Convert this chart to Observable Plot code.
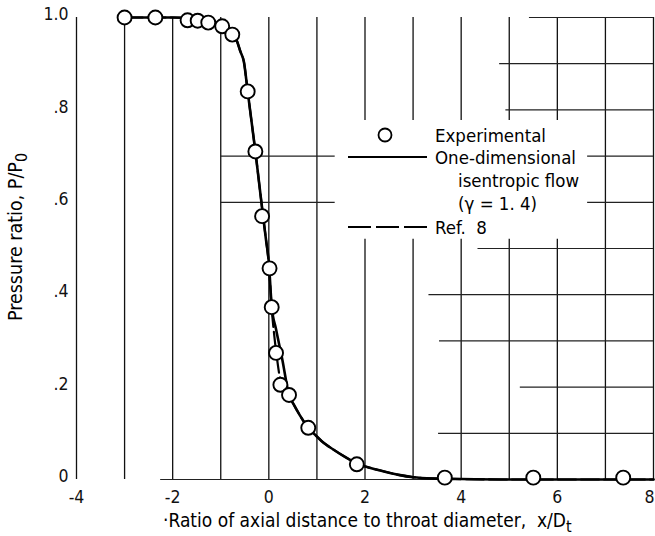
<!DOCTYPE html>
<html><head><meta charset="utf-8">
<script src="https://cdn.jsdelivr.net/npm/d3@7"></script>
<script src="https://cdn.jsdelivr.net/npm/@observablehq/plot@0.6"></script>
<style>
html,body{margin:0;padding:0;background:#fff;}
#chart svg{display:block;}
</style></head><body><div id="chart"></div>
<script>
// Experimental points
const expX = [-3.0, -2.36, -1.69, -1.48, -1.26, -0.97, -0.76, -0.44, -0.28, -0.14, 0.015, 0.06, 0.15, 0.24, 0.42, 0.82, 1.83, 3.66, 5.5, 7.37];
const expY = [1.0, 1.0, 0.994, 0.993, 0.989, 0.981, 0.963, 0.84, 0.71, 0.57, 0.457, 0.373, 0.274, 0.205, 0.183, 0.112, 0.033, 0.004, 0.004, 0.004];
// One-dimensional isentropic flow (solid)
const isenX = [-3, -2, -1.5, -1.2, -1.0, -0.8, -0.66, -0.59, -0.52, -0.44, -0.36, -0.28, -0.2, -0.12, -0.06, 0, 0.06, 0.15, 0.28, 0.42, 0.52, 0.64, 0.82, 0.96, 1.1, 1.34, 1.6, 1.83, 2.3, 2.7, 3.0, 3.5, 4.0, 5.0, 6.0, 7.0, 8.0];
const isenY = [1.0, 1.0, 0.997, 0.992, 0.985, 0.968, 0.948, 0.926, 0.905, 0.84, 0.775, 0.71, 0.64, 0.57, 0.52, 0.47, 0.375, 0.325, 0.26, 0.183, 0.162, 0.14, 0.112, 0.097, 0.083, 0.065, 0.048, 0.035, 0.02, 0.01, 0.005, 0.002, 0.001, 0, 0, 0, 0];
// Ref. 8 (dashed)
const ref8X = [-3, -2, -1.5, -1.2, -1.0, -0.8, -0.66, -0.59, -0.52, -0.44, -0.36, -0.28, -0.2, -0.12, -0.06, 0, 0.06, 0.12, 0.17, 0.22, 0.3, 0.42, 0.52, 0.64, 0.82, 0.96, 1.1, 1.34, 1.6, 1.83, 2.3, 2.7, 3.0, 3.5, 4.0, 5.0, 6.0, 7.0, 8.0];
const ref8Y = [1.0, 1.0, 0.997, 0.992, 0.985, 0.968, 0.948, 0.926, 0.905, 0.84, 0.775, 0.71, 0.64, 0.57, 0.52, 0.465, 0.37, 0.305, 0.262, 0.226, 0.198, 0.182, 0.162, 0.14, 0.112, 0.097, 0.083, 0.065, 0.048, 0.035, 0.02, 0.01, 0.005, 0.002, 0.001, 0, 0, 0, 0];

const xTicks = [-4, -2, 0, 2, 4, 6, 8];
const xTickLabels = ["-4", "-2", "0", "2", "4", "6", "8"];
const yTicks = [0, 0.2, 0.4, 0.6, 0.8, 1.0];
const yTickLabels = ["0", ".2", ".4", ".6", ".8", "1.0"];

// grid segments of the printed graph paper: [x, y1, y2] and [y, x1, x2]
const vGrid = [[-4,0,1],[-3,0,1],[-2,0,1],[-1,0,1],[0,0,1],[1,0,1],
  [2,0,0.52],[2,0.777,1],[3,0,0.52],[3,0.777,1],[4,0,0.52],[4,0.777,1],
  [5,0,0.52],[5,0.777,1],[6,0,0.52],[6,0.777,1],[7,0,1],[8,0,1]];
const hGrid = [[1.0,5.42,8],[0.9,4.8,8],[0.8,4.93,8],[0.7,-1,1.38],[0.7,6.63,8],
  [0.6,-1,1.38],[0.6,6.63,8],[0.5,4.35,8],[0.4,3.33,8],[0.3,3.55,8],[0.2,5.23,8],[0.1,3.53,8],[0,-2.25,8]];

const FONT = '"DejaVu Sans Condensed","Liberation Sans Narrow","Liberation Sans",sans-serif';

const expData = expX.map((x, i) => ({x, y: expY[i]}));
const isenData = isenX.map((x, i) => ({x, y: isenY[i]}));
const ref8Data = ref8X.map((x, i) => ({x, y: ref8Y[i]}));
const fmtX = (d) => xTickLabels[xTicks.indexOf(d)];
const lastX = xTicks[xTicks.length - 1];

const plot = Plot.plot({
  width: 655, height: 536,
  marginLeft: 76, marginRight: 2, marginTop: 17, marginBottom: 57,
  x: {domain: [-4, 8]},
  y: {domain: [0, 1]},
  style: {fontFamily: FONT, fontSize: "17px", color: "#111", background: "#fff"},
  marks: [
    Plot.ruleX(vGrid, {x: d => d[0], y1: d => d[1], y2: d => d[2], stroke: "#111", strokeWidth: 1.3}),
    Plot.ruleY(hGrid, {y: d => d[0], x1: d => d[1], x2: d => d[2], stroke: "#222", strokeWidth: 1.2}),
    Plot.line(isenData, {x: "x", y: "y", curve: "monotone-x", stroke: "#000", strokeWidth: 2.6}),
    Plot.line(ref8Data, {x: "x", y: "y", curve: "monotone-x", stroke: "#000", strokeWidth: 2.2, strokeDasharray: "18,5"}),
    Plot.dot(expData, {x: "x", y: "y", r: 7, fill: "#fff", stroke: "#000", strokeWidth: 1.9}),
    Plot.axisX({ticks: xTicks.slice(0, -1), tickFormat: fmtX, tickSize: 0, tickPadding: 11, fontSize: 17.5, label: null}),
    Plot.axisX({ticks: [lastX], tickFormat: fmtX, tickSize: 0, tickPadding: 11, fontSize: 17.5, dx: -4, label: null}),
    Plot.axisY({ticks: yTicks, tickFormat: (d) => yTickLabels[yTicks.indexOf(d)], tickSize: 0, tickPadding: 8, dy: -3, fontSize: 17.5, label: null})
  ]
});
document.getElementById("chart").appendChild(plot);

const svg = d3.select(plot);
const g = svg.append("g").attr("font-family", FONT).attr("fill", "#000").attr("text-anchor", "start");

// x axis title
const xt = g.append("text").attr("x", 163).attr("y", 527).attr("font-size", 19).attr("text-anchor", "start");
xt.append("tspan").text("\u00b7Ratio of axial distance to throat diameter,\u00a0\u00a0x/D");
xt.append("tspan").attr("dy", 5).attr("font-size", 16).text("t");

// y axis title
const yt = g.append("text").attr("transform", "translate(22,237) rotate(-90)").attr("text-anchor", "middle").attr("font-size", 19.5);
yt.append("tspan").text("Pressure ratio, P/P");
yt.append("tspan").attr("dy", 5).attr("font-size", 16).text("0");

// legend
const lg = g.append("g");
lg.append("circle").attr("cx", 385).attr("cy", 135).attr("r", 6.5).attr("fill", "#fff").attr("stroke", "#000").attr("stroke-width", 1.8);
lg.append("line").attr("x1", 348).attr("x2", 427).attr("y1", 157).attr("y2", 157).attr("stroke", "#000").attr("stroke-width", 2);
lg.append("line").attr("x1", 348).attr("x2", 427).attr("y1", 227).attr("y2", 227).attr("stroke", "#000").attr("stroke-width", 2).attr("stroke-dasharray", "23,5");
const legendRows = [["Experimental", 435, 135], ["One-dimensional", 435, 157], ["isentropic flow", 458, 180], ["(\u03b3 = 1. 4)", 458, 203], ["Ref.  8", 435, 227]];
legendRows.forEach(([t, x, y]) => {
  lg.append("text").attr("x", x).attr("y", y).attr("dy", "0.36em").attr("font-size", 18.5).attr("text-anchor", "start").text(t);
});
</script>
</body></html>
